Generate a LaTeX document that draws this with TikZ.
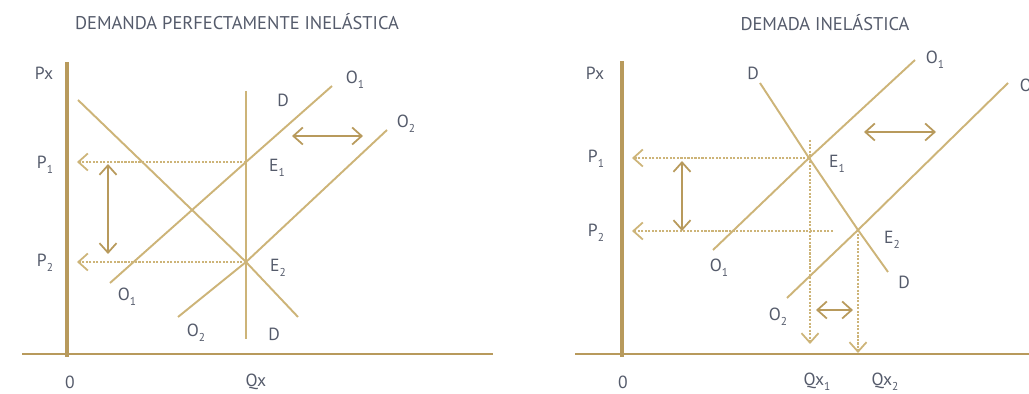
\documentclass[tikz,border=0pt]{standalone}
\usepackage{fontspec}
\setmainfont{PT Sans}
\usetikzlibrary{arrows.meta,positioning}
\definecolor{axisgold}{HTML}{B89A5C}
\definecolor{linegold}{HTML}{CDB478}
\definecolor{labelgrey}{HTML}{555B6B}
\newcommand{\lowidx}[1]{\raisebox{-0.55ex}{\fontsize{6.5}{7}\selectfont #1}}

\begin{document}
\begin{tikzpicture}[x=0.02cm, y=-0.02cm,
    yaxis/.style={draw=axisgold, line width=2.3pt},
    xaxis/.style={draw=axisgold, line width=1.3pt},
    curve/.style={draw=linegold, line width=1.1pt},
    guide/.style={draw=linegold, line width=1pt, dash pattern=on 1.2pt off 0.8pt},
    moveline/.style={draw=axisgold, line width=1pt},
    tip/.style={-{Straight Barb[length=1.9mm, width=3.4mm, line width=1pt]}},
    both/.style={{Straight Barb[length=1.9mm, width=3.4mm, line width=1pt]}-{Straight Barb[length=1.9mm, width=3.4mm, line width=1pt]}},
    lbl/.style={text=labelgrey, font=\fontsize{10}{11}\selectfont, inner sep=1pt},
    ttl/.style={text=labelgrey, font=\fontsize{10.5}{12}\selectfont, inner sep=1pt}
]
    \useasboundingbox (0,0) rectangle (1029,394);

    % Panel A: Demanda perfectamente inelastica
    \node[ttl] (ttlA) at (237,22) {DEMANDA PERFECTAMENTE INELÁSTICA};

    \coordinate (yA0) at (67,357);  \coordinate (yA1) at (67,62);
    \coordinate (xA0) at (22,354);  \coordinate (xA1) at (493,354);
    \draw[yaxis] (yA0) -- (yA1);
    \draw[xaxis] (xA0) -- (xA1);

    \coordinate (E1a) at (246,162);
    \coordinate (E2a) at (246,262);
    \coordinate (DvA1) at (246,91);   \coordinate (DvA2) at (246,339);
    \coordinate (DdA1) at (78,100);   \coordinate (DdA2) at (298,317);
    \coordinate (O1a1) at (110,283);  \coordinate (O1a2) at (332,86);
    \coordinate (O2a1) at (178,317);  \coordinate (O2a2) at (387,130);

    \draw[curve] (DvA1) -- (DvA2);
    \draw[curve] (DdA1) -- (E2a) -- (DdA2);
    \draw[curve] (O1a1) -- (E1a) -- (O1a2);
    \draw[curve] (O2a1) -- (E2a) -- (O2a2);

    \coordinate (P1a) at (77,162);
    \coordinate (P2a) at (77,262);
    \draw[guide, tip] (E1a) -- (P1a);
    \draw[guide, tip] (E2a) -- (P2a);

    \coordinate (vA1) at (108,164);  \coordinate (vA2) at (108,254);
    \coordinate (hA1) at (292,136);  \coordinate (hA2) at (363,136);
    \draw[moveline, both] (vA1) -- (vA2);
    \draw[moveline, both] (hA1) -- (hA2);

    \node[lbl] (pxA) at (44,73) {Px};
    \node[lbl] (p1A) at (45,165) {P\lowidx{1}};
    \node[lbl] (p2A) at (45,263) {P\lowidx{2}};
    \node[lbl] (zeroA) at (70,382) {0};
    \node[lbl] (qxA) at (256,382) {Qx};
    \node[lbl] (dtopA) at (283,100) {D};
    \node[lbl] (dbotA) at (274,334) {D};
    \node[lbl] (o1topA) at (355,80) {O\lowidx{1}};
    \node[lbl] (o2topA) at (406,124) {O\lowidx{2}};
    \node[lbl] (e1A) at (277,168) {E\lowidx{1}};
    \node[lbl] (e2A) at (278,268) {E\lowidx{2}};
    \node[lbl] (o1botA) at (127,297) {O\lowidx{1}};
    \node[lbl] (o2botA) at (196,333) {O\lowidx{2}};

    % Panel B: Demanda inelastica
    \node[ttl] (ttlB) at (825,23) {DEMADA INELÁSTICA};

    \coordinate (yB0) at (622,357);  \coordinate (yB1) at (622,61);
    \coordinate (xB0) at (575,354);  \coordinate (xB1) at (1029,354);
    \draw[yaxis] (yB0) -- (yB1);
    \draw[xaxis] (xB0) -- (xB1);

    \coordinate (E1b) at (809,158);
    \coordinate (E2b) at (858,230);
    \coordinate (DB1) at (760,83);    \coordinate (DB2) at (888,272);
    \coordinate (O1b1) at (713,250);  \coordinate (O1b2) at (915,60);
    \coordinate (O2b1) at (787,298);  \coordinate (O2b2) at (1008,83);

    \draw[curve] (DB1) -- (E1b) -- (E2b) -- (DB2);
    \draw[curve] (O1b1) -- (E1b) -- (O1b2);
    \draw[curve] (O2b1) -- (E2b) -- (O2b2);

    \coordinate (P1b) at (632,158);
    \coordinate (P2b) at (632,231);
    \coordinate (P2end) at (833,231);
    \coordinate (Q1top) at (810,140);
    \coordinate (Q1b) at (810,344);
    \coordinate (Q2b) at (858,353);
    \draw[guide, tip] (E1b) -- (P1b);
    \draw[guide, tip] (P2end) -- (P2b);
    \draw[guide, tip] (Q1top) -- (Q1b);
    \draw[guide, tip] (E2b) -- (Q2b);

    \coordinate (vB1) at (682,161);  \coordinate (vB2) at (682,231);
    \coordinate (hB1) at (864,132);  \coordinate (hB2) at (936,132);
    \coordinate (sB1) at (816,310);  \coordinate (sB2) at (853,310);
    \draw[moveline, both] (vB1) -- (vB2);
    \draw[moveline, both] (hB1) -- (hB2);
    \draw[moveline, both] (sB1) -- (sB2);

    \node[lbl] (pxB) at (595,73) {Px};
    \node[lbl] (p1B) at (596,159) {P\lowidx{1}};
    \node[lbl] (p2B) at (596,233) {P\lowidx{2}};
    \node[lbl] (zeroB) at (623,382) {0};
    \node[lbl] (qx1B) at (817,382) {Qx\lowidx{1}};
    \node[lbl] (qx2B) at (885,382) {Qx\lowidx{2}};
    \node[lbl] (dtopB) at (753,73) {D};
    \node[lbl] (o1topB) at (935,60) {O\lowidx{1}};
    \node[lbl] (o2topB) at (1029,88) {O\lowidx{2}};
    \node[lbl] (e1B) at (837,164) {E\lowidx{1}};
    \node[lbl] (e2B) at (892,240) {E\lowidx{2}};
    \node[lbl] (dbotB) at (904,282) {D};
    \node[lbl] (o1botB) at (719,268) {O\lowidx{1}};
    \node[lbl] (o2botB) at (778,317) {O\lowidx{2}};
\end{tikzpicture}
\end{document}
